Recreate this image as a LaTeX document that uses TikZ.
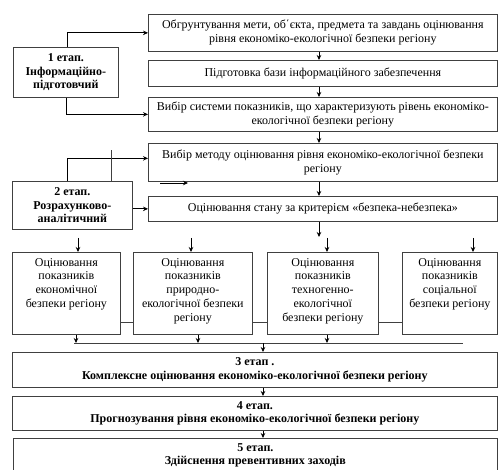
\documentclass[tikz,border=0pt]{standalone}
\usepackage{fontspec}
\setmainfont{Liberation Serif}
\usetikzlibrary{arrows.meta}
\begin{document}
\begin{tikzpicture}[x=1pt,y=-1pt,
  font=\fontsize{12}{14}\selectfont,
  box/.style={draw=black!75, line width=0.7pt, inner sep=0pt, anchor=north west, align=center},
  bf/.style={font=\fontsize{12}{13.5}\selectfont\bfseries},
  txt/.style={inner sep=0pt, align=center, anchor=north},
  arr/.style={draw=black, line width=0.7pt, -{Stealth[length=5pt,width=4.5pt]}},
  ln/.style={draw=black!75, line width=0.7pt}]
\useasboundingbox (0,0) rectangle (498,470);
% top column
\node[box, minimum width=349pt, minimum height=37pt] (A) at (148,14)
  {Обгрунтування мети, об΄єкта, предмета та завдань оцінювання\\рівня економіко-екологічної безпеки регіону};
\node[box, minimum width=349pt, minimum height=26pt] (B) at (148,60)
  {Підготовка бази інформаційного забезпечення};
\node[box, minimum width=349pt, minimum height=34pt] (C) at (148,97)
  {Вибір системи показників, що характеризують рівень економіко-\\екологічної безпеки регіону};
\node[box, minimum width=349pt, minimum height=38pt] (D) at (148,143)
  {Вибір методу оцінювання рівня економіко-екологічної безпеки\\регіону};
\node[box, minimum width=349pt, minimum height=25pt] (E) at (148,196)
  {Оцінювання стану за критерієм «безпека-небезпека»};
% stage boxes
\node[box, bf, minimum width=105pt, minimum height=50pt] (S1) at (13,47)
  {1 етап.\\Інформаційно-\\підготовчий};
\node[box, bf, minimum width=120pt, minimum height=48pt] (S2) at (12,181)
  {2 етап.\\Розрахунково-\\аналітичний};
% four assessment boxes
\node[box, minimum width=108pt, minimum height=82pt] (Q1) at (12,252) {};
\node[box, minimum width=119pt, minimum height=82pt] (Q2) at (133,252) {};
\node[box, minimum width=111pt, minimum height=82pt] (Q3) at (267,252) {};
\node[box, minimum width=95pt, minimum height=82pt] (Q4) at (402,252) {};
\node[txt, font=\fontsize{12}{13.8}\selectfont] (q1t) at ([yshift=-6pt]Q1.north) {Оцінювання\\показників\\економічної\\безпеки регіону};
\node[txt, font=\fontsize{12}{13.8}\selectfont] (q2t) at ([yshift=-6pt]Q2.north) {Оцінювання\\показників\\природно-\\екологічної безпеки\\регіону};
\node[txt, font=\fontsize{12}{13.8}\selectfont] (q3t) at ([yshift=-6pt]Q3.north) {Оцінювання\\показників\\техногенно-\\екологічної\\безпеки регіону};
\node[txt, font=\fontsize{12}{13.8}\selectfont] (q4t) at ([yshift=-6pt]Q4.north) {Оцінювання\\показників\\соціальної\\безпеки регіону};
% bottom stages
\node[box, bf, minimum width=485pt, minimum height=35pt] (T3) at (12,352)
  {3 етап .\\Комплексне оцінювання економіко-екологічної безпеки регіону};
\node[box, bf, minimum width=485pt, minimum height=34pt] (T4) at (12,396)
  {4 етап.\\Прогнозування рівня економіко-екологічної безпеки регіону};
\node[box, minimum width=484pt, minimum height=42pt] (T5) at (13,438) {};
\node[txt, bf] (t5t) at ([yshift=-5pt]T5.north)
  {5 етап.\\Здійснення превентивних заходів};
% coordinates
\coordinate (vx) at (319,0);
\coordinate (bx) at (263,0);
\coordinate (ly) at (0,322);
\coordinate (e1) at (319,237);
\coordinate (fa1) at (160,183);
\coordinate (fa2) at (188,183);
\coordinate (i1) at (78,238);
\coordinate (i2) at (191,238);
\coordinate (i3) at (327,238);
\coordinate (i4) at (473,238);
\coordinate (o1) at (76,0);
\coordinate (o2) at (198,0);
\coordinate (o3) at (327,0);
\coordinate (busL) at (74,343);
\coordinate (busR) at (463,343);
% stage 1 connectors
\draw[arr] ([xshift=1.5pt]S1.north) |- (A.west);
\draw[arr] (S1.south) |- (C.west);
% stage 2 connectors
\draw[arr] ([xshift=-5pt]S2.north) |- ([yshift=4pt]D.west);
\draw[ln] ([xshift=39pt]S2.north) -- ++(0,-31);
\draw[arr] (fa1) -- (fa2);
\draw[arr] (S2.east |- E.west) -- (E.west);
% vertical chain
\draw[arr] (A.south -| vx) -- (B.north -| vx);
\draw[arr] (B.south -| vx) -- (C.north -| vx);
\draw[arr] (C.south -| vx) -- (D.north -| vx);
\draw[arr] (D.south -| vx) -- (E.north -| vx);
\draw[arr] (E.south -| vx) -- (e1);
% arrows into assessment boxes
\draw[arr] (i1) -- (i1 |- Q1.north);
\draw[arr] (i2) -- (i2 |- Q2.north);
\draw[arr] (i3) -- (i3 |- Q3.north);
\draw[arr] (i4) -- (i4 |- Q4.north);
% links between assessment boxes
\draw[ln] (Q1.east |- ly) -- (Q2.west |- ly);
\draw[ln] (Q2.east |- ly) -- (Q3.west |- ly);
\draw[ln] (Q3.east |- ly) -- (Q4.west |- ly);
% bus
\draw[arr] (Q1.south -| o1) -- (busL -| o1);
\draw[arr] (Q2.south -| o2) -- (busL -| o2);
\draw[arr] (Q3.south -| o3) -- (busL -| o3);
\draw[ln] (busL) -- (busR);
\draw[arr] (busL -| bx) -- (T3.north -| bx);
\draw[arr] (T3.south -| bx) -- (T4.north -| bx);
\draw[arr] (T4.south -| bx) -- (T5.north -| bx);
\end{tikzpicture}
\end{document}
